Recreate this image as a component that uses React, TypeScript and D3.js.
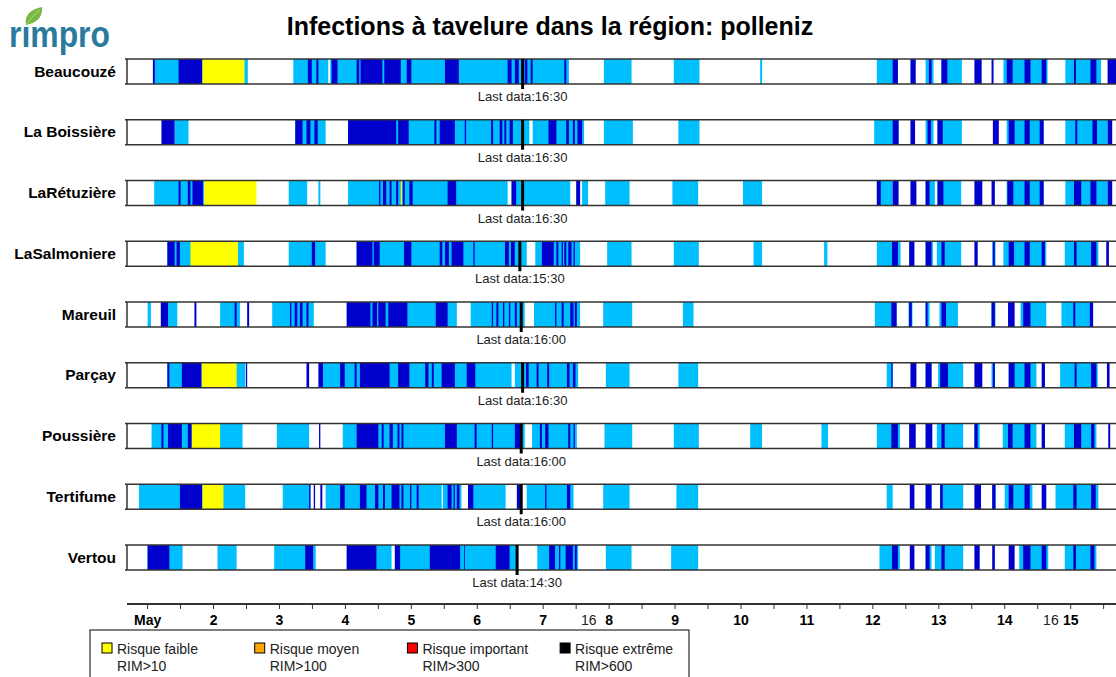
import React from "react";
import * as d3 from "d3";

// [start day, end day, kind]  kind 1 = wet (light blue), 2 = rain (dark blue), 3 = risque faible
type Span = [number, number, number];

const title = "Infections à tavelure dans la région: polleniz";

const stations = [
  "Beaucouzé",
  "La Boissière",
  "LaRétuzière",
  "LaSalmoniere",
  "Mareuil",
  "Parçay",
  "Poussière",
  "Tertifume",
  "Vertou",
];
const lastData = ["16:30", "16:30", "16:30", "15:30", "16:00", "16:30", "16:00", "16:00", "14:30"];
const lastDay = 6;

const dayLabels = ["May", "2", "3", "4", "5", "6", "7", "8", "9", "10", "11", "12", "13", "14", "15"];
const hourMarks: [number, string][] = [
  [7.69, "16"],
  [14.7, "16"],
];

const legendNames = ["Risque faible", "Risque moyen", "Risque important", "Risque extrême"];
const legendRims = ["RIM>10", "RIM>100", "RIM>300", "RIM>600"];
const legendColors = ["#ffff00", "#ffa500", "#ff0000", "#000000"];

const beaucouze: Span[] = [
  [1.11, 2.52, 1], [3.21, 3.74, 1], [3.77, 7.39, 1], [7.92, 8.34, 1], [8.98, 9.37, 1], [10.29, 10.32, 1],
  [12.06, 12.36, 1], [12.8, 12.92, 1], [13.04, 13.35, 1], [13.98, 14.65, 1], [14.92, 15.46, 1],
  [1.08, 1.11, 2], [1.47, 1.83, 2], [3.43, 3.49, 2], [3.56, 3.59, 2], [3.79, 3.88, 2], [4.17, 4.21, 2],
  [4.23, 4.56, 2], [4.59, 4.84, 2], [4.93, 5.0, 2], [5.51, 5.72, 2], [6.46, 6.52, 2], [6.57, 6.63, 2],
  [6.72, 6.76, 2], [6.81, 6.84, 2], [7.32, 7.35, 2], [12.3, 12.38, 2], [12.57, 12.65, 2], [12.85, 12.89, 2],
  [13.04, 13.13, 2], [13.54, 13.65, 2], [13.8, 13.83, 2], [14.03, 14.12, 2], [14.3, 14.39, 2],
  [14.56, 14.63, 2], [15.05, 15.08, 2], [15.3, 15.39, 2], [15.56, 15.69, 2],
  [1.83, 2.47, 3],
];

const laBoissiere: Span[] = [
  [1.41, 1.62, 1], [3.24, 3.7, 1], [4.04, 6.79, 1], [6.84, 7.62, 1], [7.92, 8.36, 1], [9.05, 9.37, 1],
  [12.02, 12.39, 1], [12.8, 12.92, 1], [12.98, 13.35, 1], [14.03, 14.59, 1], [14.92, 15.56, 1],
  [1.21, 1.41, 2], [3.24, 3.35, 2], [3.41, 3.47, 2], [3.53, 3.58, 2], [4.04, 4.77, 2], [4.8, 4.96, 2],
  [5.35, 5.38, 2], [5.43, 5.66, 2], [5.81, 5.83, 2], [6.21, 6.24, 2], [6.34, 6.38, 2], [6.41, 6.44, 2],
  [6.49, 6.54, 2], [7.08, 7.2, 2], [7.35, 7.39, 2], [7.45, 7.48, 2], [7.52, 7.59, 2], [12.3, 12.39, 2],
  [12.57, 12.64, 2], [12.83, 12.88, 2], [12.98, 13.06, 2], [13.82, 13.91, 2], [14.06, 14.15, 2],
  [14.3, 14.38, 2], [14.53, 14.59, 2], [15.07, 15.1, 2], [15.33, 15.4, 2], [15.56, 15.63, 2],
];

const laRetuziere: Span[] = [
  [1.1, 1.86, 1], [3.14, 3.42, 1], [3.59, 3.62, 1], [4.04, 6.46, 1], [6.52, 7.41, 1], [7.59, 7.68, 1],
  [7.94, 8.31, 1], [8.96, 9.35, 1], [10.03, 10.32, 1], [12.06, 12.3, 1], [12.8, 12.94, 1], [12.98, 13.34, 1],
  [14.03, 14.59, 1], [14.92, 15.56, 1],
  [1.47, 1.5, 2], [1.61, 1.65, 2], [1.68, 1.84, 2], [4.51, 4.53, 2], [4.57, 4.62, 2], [4.67, 4.7, 2],
  [4.77, 4.8, 2], [4.87, 4.9, 2], [4.97, 5.02, 2], [5.55, 5.68, 2], [6.52, 6.59, 2], [7.5, 7.56, 2],
  [12.06, 12.12, 2], [12.3, 12.39, 2], [12.57, 12.66, 2], [12.8, 12.86, 2], [12.98, 13.07, 2],
  [13.54, 13.66, 2], [13.8, 13.85, 2], [14.04, 14.13, 2], [14.3, 14.38, 2], [14.53, 14.59, 2],
  [15.05, 15.16, 2], [15.3, 15.39, 2], [15.56, 15.63, 2],
  [1.86, 2.65, 3], [4.84, 4.86, 3],
];

const laSalmoniere: Span[] = [
  [1.3, 2.46, 1], [3.14, 3.7, 1], [4.17, 6.75, 1], [6.88, 7.56, 1], [7.97, 8.34, 1], [8.98, 9.36, 1],
  [10.19, 10.32, 1], [11.26, 11.31, 1], [12.06, 12.42, 1], [12.8, 12.91, 1], [12.97, 13.34, 1],
  [13.81, 13.86, 1], [13.98, 14.63, 1], [14.91, 15.42, 1],
  [1.3, 1.41, 2], [1.44, 1.49, 2], [3.49, 3.54, 2], [4.17, 4.41, 2], [4.43, 4.52, 2], [4.89, 5.0, 2],
  [5.43, 5.47, 2], [5.51, 5.57, 2], [5.61, 5.79, 2], [5.94, 5.96, 2], [6.42, 6.48, 2], [6.51, 6.57, 2],
  [6.98, 7.16, 2], [7.2, 7.23, 2], [7.28, 7.3, 2], [7.32, 7.35, 2], [7.38, 7.43, 2], [7.46, 7.48, 2],
  [12.29, 12.38, 2], [12.55, 12.63, 2], [12.8, 12.89, 2], [13.04, 13.09, 2], [13.54, 13.59, 2],
  [13.82, 13.85, 2], [14.06, 14.14, 2], [14.3, 14.38, 2], [14.56, 14.61, 2], [15.05, 15.09, 2],
  [15.31, 15.39, 2], [15.54, 15.58, 2],
  [1.65, 2.37, 3],
];

const mareuil: Span[] = [
  [1.0, 1.05, 1], [1.31, 1.45, 1], [2.1, 2.4, 1], [2.89, 3.52, 1], [4.02, 5.69, 1], [5.9, 6.72, 1],
  [6.86, 7.56, 1], [7.91, 8.35, 1], [9.12, 9.28, 1], [12.03, 12.36, 1], [12.54, 12.6, 1], [12.8, 12.86, 1],
  [13.01, 13.29, 1], [13.8, 13.86, 1], [14.24, 14.63, 1], [14.86, 15.34, 1],
  [1.2, 1.31, 2], [1.71, 1.74, 2], [2.32, 2.35, 2], [2.51, 2.54, 2], [3.16, 3.18, 2], [3.23, 3.27, 2],
  [3.31, 3.35, 2], [3.41, 3.44, 2], [4.02, 4.38, 2], [4.41, 4.48, 2], [4.5, 4.61, 2], [4.65, 4.94, 2],
  [5.37, 5.55, 2], [6.22, 6.24, 2], [6.29, 6.32, 2], [6.39, 6.41, 2], [6.48, 6.5, 2], [6.57, 6.6, 2],
  [7.18, 7.2, 2], [7.28, 7.31, 2], [7.41, 7.46, 2], [7.48, 7.51, 2], [12.28, 12.36, 2], [12.55, 12.59, 2],
  [12.8, 12.83, 2], [13.04, 13.11, 2], [13.8, 13.85, 2], [14.05, 14.15, 2], [14.28, 14.39, 2],
  [15.04, 15.07, 2], [15.29, 15.34, 2],
];

const parcay: Span[] = [
  [1.3, 2.48, 1], [3.66, 6.52, 1], [6.57, 7.53, 1], [7.95, 8.31, 1], [9.05, 9.35, 1], [12.21, 12.3, 1],
  [12.8, 12.89, 1], [12.99, 13.37, 1], [13.8, 13.85, 1], [14.06, 14.48, 1], [14.84, 15.41, 1],
  [1.3, 1.33, 2], [1.52, 1.82, 2], [2.49, 2.51, 2], [3.41, 3.45, 2], [3.59, 3.66, 2], [3.92, 3.99, 2],
  [4.14, 4.17, 2], [4.22, 4.67, 2], [4.8, 4.97, 2], [5.21, 5.26, 2], [5.31, 5.34, 2], [5.46, 5.66, 2],
  [5.84, 5.97, 2], [6.74, 6.78, 2], [6.9, 6.93, 2], [7.06, 7.09, 2], [7.36, 7.4, 2], [7.45, 7.49, 2],
  [12.28, 12.3, 2], [12.57, 12.66, 2], [12.8, 12.89, 2], [13.02, 13.14, 2], [13.54, 13.66, 2],
  [13.82, 13.85, 2], [14.06, 14.15, 2], [14.3, 14.39, 2], [14.56, 14.61, 2], [15.06, 15.09, 2],
  [15.31, 15.39, 2], [15.55, 15.59, 2],
  [1.82, 2.35, 3],
];

const poussiere: Span[] = [
  [1.06, 2.44, 1], [2.96, 3.45, 1], [3.96, 6.72, 1], [6.83, 7.51, 1], [7.93, 8.35, 1], [8.98, 9.36, 1],
  [10.14, 10.32, 1], [11.22, 11.32, 1], [12.06, 12.41, 1], [12.8, 12.9, 1], [12.97, 13.37, 1],
  [13.54, 13.62, 1], [13.97, 14.48, 1], [14.91, 15.39, 1],
  [1.21, 1.24, 2], [1.31, 1.52, 2], [1.61, 1.67, 2], [3.6, 3.62, 2], [4.17, 4.5, 2], [4.55, 4.58, 2],
  [4.67, 4.72, 2], [4.79, 4.82, 2], [4.85, 4.88, 2], [5.51, 5.69, 2], [5.96, 5.99, 2], [6.22, 6.24, 2],
  [6.57, 6.65, 2], [6.95, 6.98, 2], [7.03, 7.08, 2], [7.38, 7.41, 2], [7.46, 7.48, 2], [12.28, 12.38, 2],
  [12.55, 12.65, 2], [12.8, 12.9, 2], [13.04, 13.09, 2], [13.54, 13.59, 2], [14.05, 14.12, 2],
  [14.3, 14.39, 2], [14.56, 14.61, 2], [15.05, 15.16, 2], [15.31, 15.36, 2], [15.57, 15.6, 2],
  [1.67, 2.1, 3],
];

const tertifume: Span[] = [
  [0.87, 2.48, 1], [3.05, 3.47, 1], [3.7, 5.46, 1], [5.48, 5.76, 1], [5.86, 6.43, 1], [6.75, 7.46, 1],
  [7.91, 8.31, 1], [9.02, 9.35, 1], [12.21, 12.3, 1], [12.8, 12.89, 1], [13.02, 13.37, 1],
  [13.81, 13.86, 1], [14.0, 14.42, 1], [14.77, 15.42, 1],
  [1.49, 1.83, 2], [3.45, 3.47, 2], [3.52, 3.54, 2], [3.62, 3.65, 2], [3.92, 3.99, 2], [4.22, 4.32, 2],
  [4.45, 4.5, 2], [4.57, 4.6, 2], [4.7, 4.82, 2], [4.85, 4.88, 2], [4.98, 5.0, 2], [5.08, 5.11, 2],
  [5.55, 5.61, 2], [5.64, 5.66, 2], [5.69, 5.73, 2], [5.86, 5.94, 2], [6.6, 6.65, 2], [7.03, 7.05, 2],
  [7.36, 7.41, 2], [12.56, 12.63, 2], [12.8, 12.89, 2], [13.02, 13.06, 2], [13.54, 13.64, 2],
  [13.81, 13.86, 2], [14.06, 14.13, 2], [14.3, 14.38, 2], [14.56, 14.63, 2], [15.04, 15.09, 2],
  [15.31, 15.38, 2],
  [1.83, 2.15, 3],
];

const vertou: Span[] = [
  [1.0, 1.53, 1], [2.06, 2.35, 1], [2.92, 3.55, 1], [4.02, 4.7, 1], [4.75, 6.62, 1], [6.91, 7.53, 1],
  [7.95, 8.34, 1], [8.94, 9.35, 1], [12.1, 12.41, 1], [12.8, 12.89, 1], [12.94, 13.37, 1],
  [14.22, 14.66, 1], [14.91, 15.39, 1],
  [1.0, 1.33, 2], [3.39, 3.51, 2], [4.02, 4.47, 2], [4.75, 4.83, 2], [5.28, 5.74, 2], [5.8, 5.81, 2],
  [6.28, 6.49, 2], [7.09, 7.18, 2], [7.24, 7.26, 2], [7.34, 7.45, 2], [7.48, 7.51, 2], [12.29, 12.38, 2],
  [12.56, 12.63, 2], [12.8, 12.86, 2], [13.04, 13.09, 2], [13.54, 13.62, 2], [13.81, 13.85, 2],
  [14.06, 14.15, 2], [14.28, 14.39, 2], [14.56, 14.63, 2], [15.04, 15.08, 2], [15.3, 15.36, 2],
];

const rows = [beaucouze, laBoissiere, laRetuziere, laSalmoniere, mareuil, parcay, poussiere, tertifume, vertou];

const kindColor: Record<number, string> = { 1: "#00bfff", 2: "#0000cd", 3: "#ffff00" };

const FONT = "'Liberation Sans', Arial, sans-serif";

export default function App() {
  const width = 1116;
  const height = 677;
  const rowH = 25;
  const left = 127;

  const x = d3.scaleLinear().domain([0.6875, 15.6875]).range([left, width]);
  const y = d3.scalePoint<string>().domain(stations).range([59, 545]);
  const axisY = 604;
  const ticks = d3.range(1, 15.6, 0.5);

  const clamp = (v: number) => Math.max(0.6875, Math.min(15.6875, v));
  const toDay = (t: string) => {
    const [h, m] = t.split(":").map(Number);
    return lastDay + (h + m / 60) / 24;
  };

  return (
    <svg
      width={width}
      height={height}
      style={{ position: "absolute", left: 0, top: 0, background: "#fff" }}
      fontFamily={FONT}
    >
      {/* logo */}
      <g>
        <path d="M26 25 C24 15, 31 9, 42 7 C43 17, 37 23, 26 25 Z" fill="#78b843" />
        <path d="M27 24 C31 18, 35 14, 40 10" stroke="#a9d877" strokeWidth={1} fill="none" />
        <text
          x={9}
          y={47}
          fontSize={36}
          fontWeight="bold"
          fill="#2a7a9e"
          textLength={101}
          lengthAdjust="spacingAndGlyphs"
        >
          rımpro
        </text>
      </g>

      <text x={550} y={35} textAnchor="middle" fontSize={25} fontWeight="bold" fill="#000">
        {title}
      </text>

      {stations.map((name, i) => {
        const top = y(name) as number;
        const spans = [...rows[i]].sort((a, b) => a[2] - b[2]);
        const mx = x(toDay(lastData[i]));
        return (
          <g key={name}>
            <rect x={left} y={top} width={width - left} height={rowH} fill="#fff" />
            {spans.map((s, j) => (
              <rect
                key={j}
                x={x(clamp(s[0]))}
                y={top}
                width={Math.max(0.8, x(clamp(s[1])) - x(clamp(s[0])))}
                height={rowH}
                fill={kindColor[s[2]]}
              />
            ))}
            <line x1={left - 2} x2={width} y1={top} y2={top} stroke="#333" strokeWidth={1.5} />
            <line x1={left - 2} x2={width} y1={top + rowH} y2={top + rowH} stroke="#333" strokeWidth={1.5} />
            <line x1={left} x2={left} y1={top} y2={top + rowH} stroke="#333" strokeWidth={1.5} />
            <line x1={mx} x2={mx} y1={top} y2={top + rowH + 5} stroke="#000" strokeWidth={3} />
            <text x={mx} y={top + rowH + 17} textAnchor="middle" fontSize={13} fill="#222">
              {`Last data:${lastData[i]}`}
            </text>
            <text
              x={116}
              y={top + rowH / 2 + 5}
              textAnchor="end"
              fontSize={15.5}
              fontWeight="bold"
              fill="#000"
            >
              {name}
            </text>
          </g>
        );
      })}

      {/* time axis */}
      <line x1={left} x2={width} y1={axisY} y2={axisY} stroke="#333" strokeWidth={2} />
      {ticks.map((t) => (
        <line key={t} x1={x(t)} x2={x(t)} y1={axisY} y2={axisY + 5} stroke="#333" strokeWidth={1} />
      ))}
      {dayLabels.map((lab, i) => (
        <text key={lab} x={x(i + 1)} y={625} textAnchor="middle" fontSize={14} fontWeight="bold" fill="#000">
          {lab}
        </text>
      ))}
      {hourMarks.map(([d, lab]) => (
        <text key={d} x={x(d)} y={625} textAnchor="middle" fontSize={14} fill="#222">
          {lab}
        </text>
      ))}

      {/* legend */}
      <rect x={90} y={630} width={599} height={60} fill="none" stroke="#000" strokeWidth={1} />
      {legendNames.map((n, i) => {
        const lx = 102 + i * 152.7;
        return (
          <g key={n}>
            <rect x={lx} y={643} width={10} height={10} fill={legendColors[i]} stroke="#000" strokeWidth={1} />
            <text x={lx + 15} y={654} fontSize={14} fill="#222">
              {n}
            </text>
            <text x={lx + 15} y={671} fontSize={14} fill="#222">
              {legendRims[i]}
            </text>
          </g>
        );
      })}
    </svg>
  );
}
